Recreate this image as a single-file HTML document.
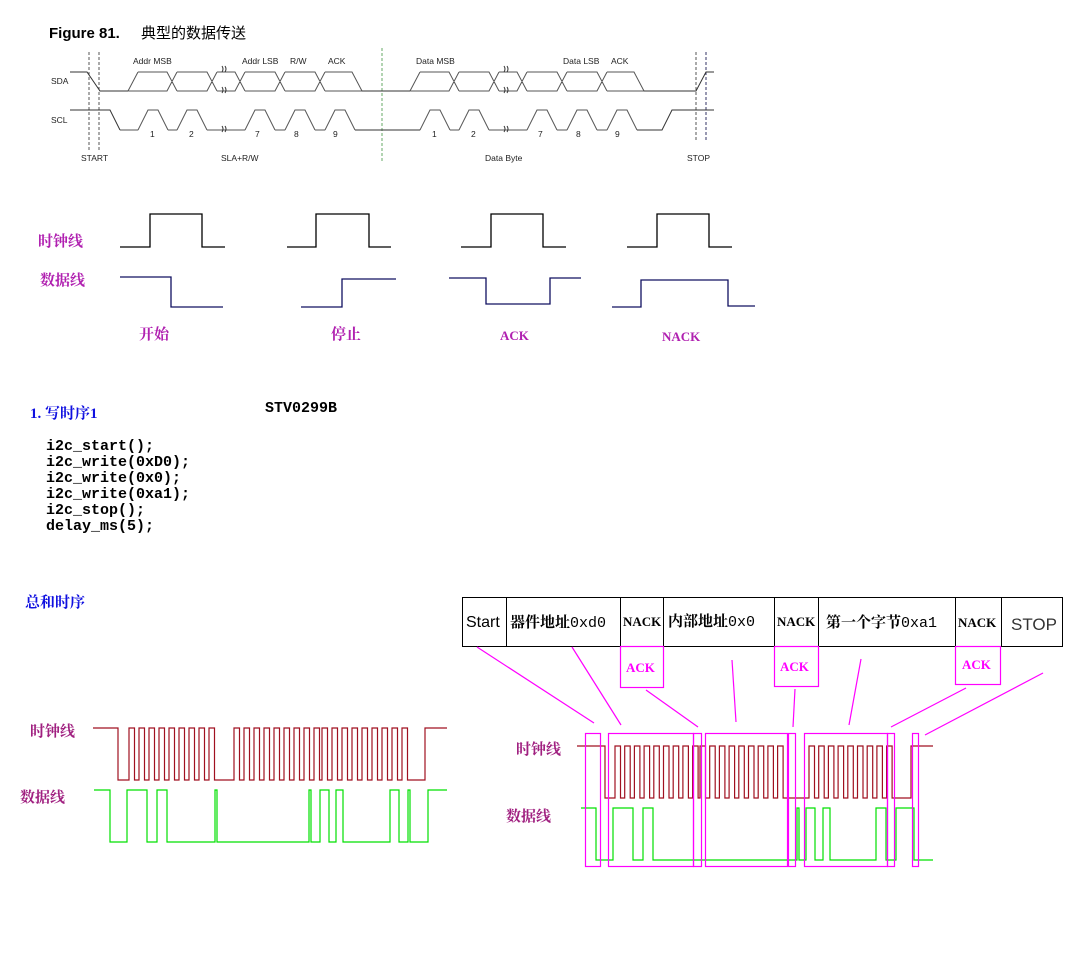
<!DOCTYPE html>
<html><head><meta charset="utf-8">
<style>
html,body{margin:0;padding:0;background:#fff;width:1076px;height:965px;overflow:hidden}
svg{position:absolute;left:0;top:0}
.s{font-family:"Liberation Sans",Arial,sans-serif}
.cj{font-family:"Liberation Serif","Noto Serif CJK SC","Noto Sans CJK SC",serif;font-weight:bold}
.mono{font-family:"Liberation Mono","Noto Sans CJK SC",monospace;font-weight:bold}
</style></head><body>
<svg id="g" width="1076" height="965" viewBox="0 0 1076 965" xmlns="http://www.w3.org/2000/svg">
<text x="49" y="38" class="s" font-size="15" font-weight="bold">Figure 81.</text>
<text x="141" y="38" font-family="'Noto Sans CJK SC',sans-serif" font-size="15">典型的数据传送</text>
<g class="s" font-size="8.5" fill="#222">
<text x="133" y="64">Addr MSB</text><text x="242" y="64">Addr LSB</text><text x="290" y="64">R/W</text><text x="328" y="64">ACK</text>
<text x="416" y="64">Data MSB</text><text x="563" y="64">Data LSB</text><text x="611" y="64">ACK</text>
<text x="51" y="84">SDA</text><text x="51" y="123">SCL</text>
<text x="150" y="137">1</text><text x="189" y="137">2</text><text x="255" y="137">7</text><text x="294" y="137">8</text><text x="333" y="137">9</text>
<text x="432" y="137">1</text><text x="471" y="137">2</text><text x="538" y="137">7</text><text x="576" y="137">8</text><text x="615" y="137">9</text>
<text x="81" y="161">START</text><text x="221" y="161">SLA+R/W</text><text x="485" y="161">Data Byte</text><text x="687" y="161">STOP</text>
</g>
<g stroke="#555" stroke-dasharray="3,2" stroke-width="1">
<line x1="89" y1="52" x2="89" y2="150"/><line x1="99" y1="52" x2="99" y2="150"/><line x1="382" y1="48" x2="382" y2="162" stroke="#6a6"/>
<line x1="696" y1="52" x2="696" y2="140"/><line x1="706" y1="52" x2="706" y2="140" stroke="#336"/>
</g>
<g id="top" fill="none" stroke="#444" stroke-width="1"></g>
<g id="s2" fill="none" stroke="#000" stroke-width="1.3"></g>
<g class="cj" fill="#b020b0" font-size="15">
<text x="38" y="246">时钟线</text><text x="40" y="285">数据线</text>
<text x="139" y="339">开始</text><text x="331" y="339">停止</text>
<text x="500" y="340" font-size="13">ACK</text><text x="662" y="341" font-size="13">NACK</text>
</g>
<text x="30" y="418" class="cj" fill="#1010e0" font-size="15">1. 写时序1</text>
<text x="265" y="412" class="mono" font-size="15">STV0299B</text>
<g class="mono" font-size="15" fill="#000">
<text x="46" y="450">i2c_start();</text><text x="46" y="466">i2c_write(0xD0);</text><text x="46" y="482">i2c_write(0x0);</text>
<text x="46" y="498">i2c_write(0xa1);</text><text x="46" y="514">i2c_stop();</text><text x="46" y="530">delay_ms(5);</text>
</g>
<text x="25" y="607" class="cj" fill="#1010e0" font-size="15">总和时序</text>
<g class="cj" fill="#a02080" font-size="15">
<text x="30" y="736">时钟线</text><text x="20" y="802">数据线</text>
<text x="516" y="754">时钟线</text><text x="506" y="821">数据线</text>
</g>
<g id="bot" fill="none" stroke-width="1.2"></g>
<g fill="none" stroke="#000" stroke-width="1">
<rect x="462.5" y="597.5" width="600" height="49"/>
<line x1="506.5" y1="597" x2="506.5" y2="647"/><line x1="620.5" y1="597" x2="620.5" y2="647"/><line x1="663.5" y1="597" x2="663.5" y2="647"/>
<line x1="774.5" y1="597" x2="774.5" y2="647"/><line x1="818.5" y1="597" x2="818.5" y2="647"/><line x1="955.5" y1="597" x2="955.5" y2="647"/><line x1="1001.5" y1="597" x2="1001.5" y2="647"/>
</g>
<g fill="#000">
<text x="466" y="627" class="s" font-size="16">Start</text>
<text x="510" y="627" class="cj" font-size="15">器件地址<tspan font-family="'Liberation Mono',monospace" font-weight="normal">0xd0</tspan></text>
<text x="623" y="626" class="cj" font-size="13" font-family="'Liberation Mono',monospace">NACK</text>
<text x="668" y="626" class="cj" font-size="15">内部地址<tspan font-family="'Liberation Mono',monospace" font-weight="normal">0x0</tspan></text>
<text x="777" y="626" class="cj" font-size="13" font-family="'Liberation Mono',monospace">NACK</text>
<text x="826" y="627" class="cj" font-size="15">第一个字节<tspan font-family="'Liberation Mono',monospace" font-weight="normal">0xa1</tspan></text>
<text x="958" y="627" class="cj" font-size="13" font-family="'Liberation Mono',monospace">NACK</text>
<text x="1011" y="630" class="s" font-size="17" fill="#333">STOP</text>
</g>
<g fill="none" stroke="#ff00ff" stroke-width="1.2">
<rect x="620.5" y="646.5" width="43" height="41"/><rect x="774.5" y="646.5" width="44" height="40"/><rect x="955.5" y="646.5" width="45" height="38"/>
<line x1="477" y1="647" x2="594" y2="723"/><line x1="572" y1="647" x2="621" y2="725"/><line x1="646" y1="690" x2="698" y2="727"/>
<line x1="732" y1="660" x2="736" y2="722"/><line x1="795" y1="689" x2="793" y2="727"/><line x1="861" y1="659" x2="849" y2="725"/>
<line x1="966" y1="688" x2="891" y2="727"/><line x1="1043" y1="673" x2="925" y2="735"/>
<rect x="585.5" y="733.5" width="15" height="133"/><rect x="608.5" y="733.5" width="85" height="133"/><rect x="693.5" y="733.5" width="8" height="133"/>
<rect x="705.5" y="733.5" width="82" height="133"/><rect x="788.5" y="733.5" width="7" height="133"/><rect x="804.5" y="733.5" width="83" height="133"/>
<rect x="887.5" y="733.5" width="7" height="133"/><rect x="912.5" y="733.5" width="6" height="133"/>
</g>
<g class="cj" fill="#ff00ff" font-size="13" font-family="'Liberation Mono',monospace">
<text x="626" y="672">ACK</text><text x="780" y="671">ACK</text><text x="962" y="669">ACK</text>
</g>
</svg>
<script>
var NS="http://www.w3.org/2000/svg";
function P(g,d,st,w,dash){var p=document.createElementNS(NS,"path");p.setAttribute("d",d);if(st)p.setAttribute("stroke",st);if(w)p.setAttribute("stroke-width",w);if(dash)p.setAttribute("stroke-dasharray",dash);document.getElementById(g).appendChild(p);}
// Top: SDA/SCL
var H=72,L=91,CH=110,CL=130;
function half(o,first){
 var d="";
 // SDA low line & rise
 d+="M"+(128+o)+" "+L+" L"+(138+o)+" "+H;
 var cx=[172,212,240,280,320];
 var hs="M"+(138+o)+" "+H, ls="M"+(128+o)+" "+L;
 var xs=[];
 cx.forEach(function(c){hs+=" L"+(c-5+o)+" "+H+" L"+(c+5+o)+" "+L+" M"+(c-5+o)+" "+L;ls+=" L"+(c-5+o)+" "+L+" L"+(c+5+o)+" "+H+" M"+(c+5+o)+" "+H; });
 // build simpler: high and low segments
 var s="";var prev=138+o;var lprev=128+o;
 cx.forEach(function(c){s+="M"+prev+" "+H+" L"+(c-5+o)+" "+H+" L"+(c+5+o)+" "+L+" ";s+="M"+lprev+" "+L+" L"+(c-5+o)+" "+L+" L"+(c+5+o)+" "+H+" ";prev=c+5+o;lprev=c+5+o;});
 s+="M"+prev+" "+H+" L"+(352+o)+" "+H+" L"+(362+o)+" "+L+" M"+lprev+" "+L+" L"+(362+o)+" "+L;
 P("top",d+" "+s,"#555");
 // SCL pulses
 var c="";[138,177,245,285,325].forEach(function(x){x+=o;c+="M"+x+" "+CL+" L"+(x+10)+" "+CH+" L"+(x+20)+" "+CH+" L"+(x+30)+" "+CL+" ";});
 var low="M"+(120+o)+" "+CL+" L"+(138+o)+" "+CL+" M"+(168+o)+" "+CL+" L"+(177+o)+" "+CL+" M"+(207+o)+" "+CL+" L"+(245+o)+" "+CL+" M"+(275+o)+" "+CL+" L"+(285+o)+" "+CL+" M"+(315+o)+" "+CL+" L"+(325+o)+" "+CL;
 P("top",c+low,"#555");
 // break marks
 P("top","M"+(222+o)+" "+(H-6)+" q2 3 0 6 M"+(225+o)+" "+(H-6)+" q2 3 0 6 M"+(222+o)+" "+(L-4)+" q2 3 0 6 M"+(225+o)+" "+(L-4)+" q2 3 0 6 M"+(222+o)+" "+(CL-4)+" q2 3 0 6 M"+(225+o)+" "+(CL-4)+" q2 3 0 6","#333");
}
half(0);half(282);
P("top","M70 "+H+" L87 "+H+" L100 "+L+" L128 "+L+" M362 "+L+" L410 "+L+" M644 "+L+" L696 "+L+" L706 "+H+" L714 "+H,"#333");
P("top","M70 "+CH+" L110 "+CH+" L120 "+CL+" M355 "+CL+" L402 "+CL+" L420 "+CL+" M637 "+CL+" L662 "+CL+" L672 "+CH+" L714 "+CH,"#333");
// Section 2
P("s2","M120 247 H150 V214 H202 V247 H225 M287 247 H316 V214 H369 V247 H391 M461 247 H491 V214 H543 V247 H566 M627 247 H657 V214 H709 V247 H732");
P("s2","M120 277 H171 V307 H223 M301 307 H342 V279 H396 M449 278 H486 V304 H550 V278 H581 M612 307 H641 V280 H728 V306 H755","#101060");
// Bottom-left clock
function clk(x0,hi,lo,starts,per,hw,end,col){var d="M"+x0[0]+" "+hi+" H"+x0[1]+" V"+lo;starts.forEach(function(g){for(var i=0;i<g[1];i++){var x=g[0]+i*per;d+=" H"+x+" V"+hi+" H"+(x+hw)+" V"+lo;}});d+=" H"+end[0]+" V"+hi+" H"+end[1];P("bot",d,col);}
clk([93,118],728,780,[[129,9],[234,9],[322,9]],10,5.5,[425,447],"#a01020");
function dat(pts,hi,lo,col){var d="M"+pts[0]+" "+hi;var st=hi;for(var i=1;i<pts.length-1;i++){d+=" H"+pts[i];st=(st==hi?lo:hi);d+=" V"+st;}d+=" H"+pts[pts.length-1];P("bot",d,col);}
dat([94,110,127,147,157,167,215,217,309,311,320,329,336,343,390,399,408,410,428,447],790,842,"#00e000");
clk([577,605],746,798,[[615,9],[700,9],[809,9]],9.7,5.5,[911,933],"#a01020");
dat([581,596,613,633,643,653,797,799,806,815,823,830,876,886,896,914,933],808,860,"#00e000");
</script>
</body></html>
